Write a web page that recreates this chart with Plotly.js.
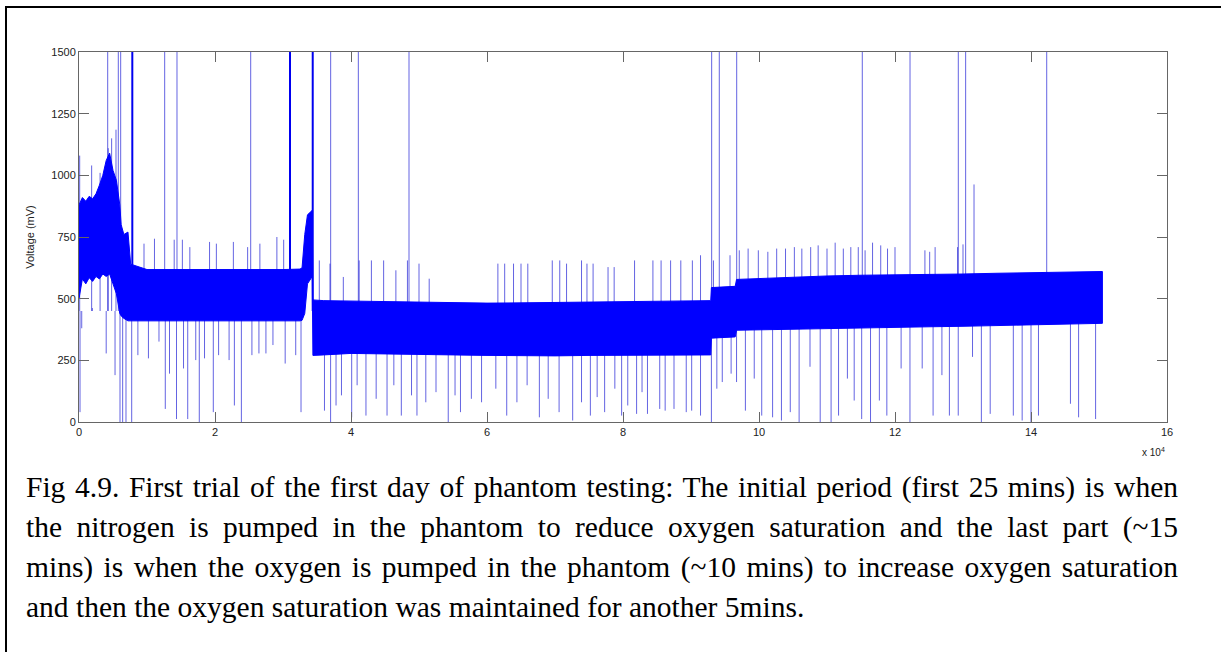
<!DOCTYPE html>
<html>
<head>
<meta charset="utf-8">
<script src="https://cdn.plot.ly/plotly-3.0.1.min.js"></script>
<style>
  body { margin: 0; background: #fff; }
  #wrap { position: relative; width: 1221px; height: 652px; overflow: hidden; background: #fff; }
  #chart { position: absolute; left: 0; top: 0; width: 1221px; height: 652px; }
  #frame { position: absolute; left: 5px; top: 6px; width: 1300px; height: 700px;
           border-left: 2px solid #000; border-top: 2px solid #000; pointer-events: none; }
  #caption { position: absolute; left: 26px; top: 467px; width: 1152px;
             font-family: "Liberation Serif", "Times New Roman", serif; font-size: 29.5px; color: #000; }
  #caption div { height: 40px; line-height: 40px; }
  #caption .j { text-align: justify; text-align-last: justify; }
</style>
</head>
<body>
<div id="wrap">
  <div id="chart"></div>
  <div id="frame"></div>
  <div id="caption">
    <div class="j">Fig 4.9. First trial of the first day of phantom testing: The initial period (first 25 mins) is when</div>
    <div class="j">the nitrogen is pumped in the phantom to reduce oxygen saturation and the last part (~15</div>
    <div class="j">mins) is when the oxygen is pumped in the phantom (~10 mins) to increase oxygen saturation</div>
    <div>and then the oxygen saturation was maintained for another 5mins.</div>
  </div>
</div>
<script>
// ---- Dense signal band (envelope of the noisy trace), x in samples, values in mV ----
const bandX      = [0, 500, 1000, 1500, 2000, 2500, 3000, 3500, 4000, 4500, 5000, 5500, 6000, 6200, 6600, 7200, 7600,
                    10000, 15000, 20000, 25000, 30000, 32500, 32800, 33200, 33600, 34300,
                    34400, 36000, 40000, 45000, 50000, 55000, 60000, 65000, 70000, 75000, 80000, 85000, 90000, 92900,
                    93000, 95000, 96500, 96700, 100000, 105000, 110000, 115000, 120000, 125000, 130000, 135000, 140000, 145000, 150500];
const bandTop    = [880, 910, 895, 915, 905, 925, 960, 1000, 1060, 1090, 1020, 980, 880, 800, 760, 770, 640,
                    618, 618, 618, 616, 618, 620, 625, 760, 840, 858,
                    495, 492, 490, 488, 485, 482, 482, 483, 485, 487, 488, 490, 492, 492,
                    545, 547, 550, 578, 582, 588, 592, 595, 596, 598, 600, 603, 605, 607, 610];
const bandBottom = [500, 580, 560, 585, 570, 590, 580, 600, 590, 600, 560, 520, 440, 430, 420, 410, 410,
                    410, 408, 410, 410, 410, 410, 412, 440, 560, 590,
                    270, 272, 278, 278, 275, 272, 270, 268, 268, 270, 272, 272, 272, 272,
                    340, 342, 345, 372, 375, 378, 380, 382, 384, 386, 388, 390, 393, 396, 400];

// ---- Upward spikes (sample index, peak mV) ----
const spikeUpX = [4220, 5780, 6130, 12600, 14410, 25250, 37010, 41080, 48530, 93040, 94160, 96720,
                  115190, 122210, 129310, 130390, 142310,
                  100, 1860, 3100, 4300, 4800, 5440, 131620,
                  9560, 11100, 14000, 15200, 16300, 19200, 20200, 22700, 24800, 26600, 29100, 30100,
                  35340, 36910, 38870, 41200, 43000, 44800, 46600, 48300, 50000, 51500, 61600, 62600, 63900,
                  65000, 66000, 69600, 70700, 71700, 73900, 74700, 75600, 77800, 78700, 81700, 84400, 85600,
                  87000, 88500, 90200, 91400,
                  93300, 95740, 97100, 98400, 99900, 101300, 102600, 103900, 105200, 106300, 107600, 108700,
                  110000, 111200, 112400, 113500, 114600, 115600, 116700, 117900, 118900, 120000, 124400,
                  125100, 125900, 129200, 130000];
const spikeUpV = [1500, 1500, 1500, 1500, 1500, 1500, 1500, 1500, 1500, 1500, 1500, 1500,
                  1500, 1500, 1500, 1500, 1500,
                  1080, 1040, 1010, 1110, 1150, 1185, 963,
                  723, 743, 739, 739, 709, 730, 723, 730, 709, 723, 750, 739,
                  655, 642, 588, 655, 655, 655, 615, 655, 642, 581, 642, 642, 642,
                  642, 642, 655, 655, 642, 655, 642, 642, 628, 628, 655, 655, 655,
                  655, 655, 655, 676,
                  655, 676, 696, 703, 696, 690, 703, 703, 709, 703, 709, 716,
                  703, 727, 703, 709, 709, 696, 727, 716, 703, 709, 696,
                  690, 709, 709, 720];

// ---- Heavier full-scale spikes ----
const thickSpikeX = [7840, 31030, 34370];
const thickSpikeV = [1500, 1500, 1500];

// ---- Downward spikes (sample index, lowest mV) ----
const spikeDownX = [150, 400, 1960, 4000, 5300, 6030, 6420, 6910, 7750,
                    8660, 10210, 11760, 12690, 13310, 14340, 15370, 15990, 17170, 17690, 18460, 19750,
                    20530, 22070, 22850, 23880, 25430, 26460, 27490, 28520, 30320, 31870, 32650,
                    36100, 37000, 37800, 38600, 40100, 40900, 42200, 43700, 45300, 46300, 47400, 48900,
                    49700, 51000, 52500, 54300, 55300, 56100, 57700, 59200, 61300, 62900, 64400, 65900,
                    67700, 69000, 70600, 72600, 73900, 75200, 76200, 77300, 78800, 79800,
                    80700, 82000, 82800, 83600, 85400, 86200, 87500, 89300, 90100, 91400, 93000, 93800,
                    94600, 95900, 96700, 98000, 99300, 100400, 102000, 103300, 104600, 105900, 107500,
                    109000, 110600, 111700, 113000, 114000, 115100, 116400, 117700, 118800, 120900,
                    122200, 124000, 125600, 126900, 128000, 129300, 131400, 132700, 134000, 137400,
                    138700, 140000, 141100, 145800, 147000, 149500];
const spikeDownV = [40, 380, 462, 278, 190, 0, 0, 0, 0,
                    271, 258, 326, 53, 196, 12, 217, 12, 251, 0, 258, 40,
                    271, 251, 67, 0, 271, 278, 278, 312, 237, 271, 40,
                    46, 0, 67, 108, 19, 149, 26, 94, 26, 149, 26, 108,
                    26, 80, 121, 0, 108, 40, 94, 80, 135, 26, 80, 149,
                    19, 94, 40, 6, 80, 26, 101, 40, 135, 26,
                    67, 33, 121, 33, 53, 46, 53, 40, 46, 26, 0, 135,
                    162, 196, 162, 46, 176, 26, 19, 6, 40, 0, 224,
                    0, 0, 26, 176, 87, 12, 0, 87, 26, 217,
                    0, 217, 26, 190, 26, 26, 264, 0, 33, 26,
                    6, 0, 26, 74, 19, 12];

// ---- Axis ticks ----
const xTickVals  = [0, 20000, 40000, 60000, 80000, 100000, 120000, 140000, 160000];
const xTickText  = ['0', '2', '4', '6', '8', '10', '12', '14', '16'];
const yTickVals  = [0, 250, 500, 750, 1000, 1250, 1500];
const yTickText  = ['0', '250', '500', '750', '1000', '1250', '1500'];

function spikeSegments(xs, vs, base) {
  const X = [], Y = [];
  xs.forEach((x, i) => { X.push(x, x, null); Y.push(base, vs[i], null); });
  return { X, Y };
}

const up = spikeSegments(spikeUpX, spikeUpV, 450);
const down = spikeSegments(spikeDownX, spikeDownV, 450);
const thick = spikeSegments(thickSpikeX, thickSpikeV, 450);

const polyX = bandX.concat(bandX.slice().reverse());
const polyY = bandTop.concat(bandBottom.slice().reverse());

const traces = [
  { x: up.X, y: up.Y, type: 'scatter', mode: 'lines', line: { color: 'rgba(40,40,215,0.72)', width: 1 }, hoverinfo: 'skip', showlegend: false },
  { x: down.X, y: down.Y, type: 'scatter', mode: 'lines', line: { color: 'rgba(40,40,215,0.72)', width: 1 }, hoverinfo: 'skip', showlegend: false },
  { x: thick.X, y: thick.Y, type: 'scatter', mode: 'lines', line: { color: '#0000f0', width: 2 }, hoverinfo: 'skip', showlegend: false },
  { x: polyX, y: polyY, type: 'scatter', mode: 'lines', fill: 'toself', fillcolor: '#0000ff', line: { color: '#0000ff', width: 1 }, hoverinfo: 'skip', showlegend: false }
];

const axisCommon = {
  showgrid: false, zeroline: false, showline: true, linecolor: '#666', linewidth: 1,
  mirror: 'ticks', ticks: 'inside', ticklen: 10, tickcolor: '#666', tickwidth: 1,
  tickfont: { family: 'Liberation Sans, Arial, sans-serif', size: 11, color: '#222' }
};

const layout = {
  width: 1221, height: 652,
  margin: { l: 79, r: 54, t: 52, b: 230 },
  paper_bgcolor: 'rgba(0,0,0,0)', plot_bgcolor: '#fff',
  xaxis: Object.assign({}, axisCommon, { range: [0, 160000], tickmode: 'array', tickvals: xTickVals, ticktext: xTickText }),
  yaxis: Object.assign({}, axisCommon, { range: [0, 1500], tickmode: 'array', tickvals: yTickVals, ticktext: yTickText,
    title: { text: 'Voltage (mV)', font: { family: 'Liberation Sans, Arial, sans-serif', size: 11, color: '#222' }, standoff: 14 } }),
  annotations: [
    { text: 'x 10<sup>4</sup>', xref: 'paper', yref: 'paper', x: 1, y: -0.08, xanchor: 'right', yanchor: 'middle',
      showarrow: false, font: { family: 'Liberation Sans, Arial, sans-serif', size: 10, color: '#222' } }
  ]
};

Plotly.newPlot('chart', traces, layout, { staticPlot: true, displayModeBar: false });
</script>
</body>
</html>
